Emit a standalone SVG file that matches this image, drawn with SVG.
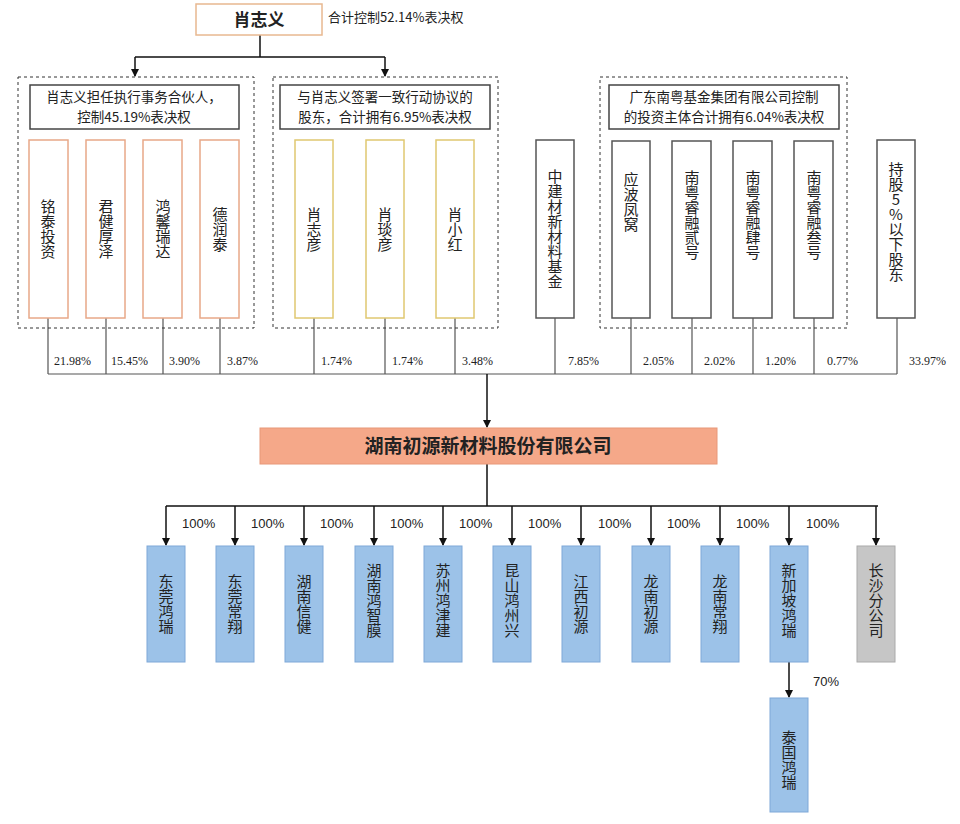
<svg xmlns="http://www.w3.org/2000/svg" width="960" height="824" viewBox="0 0 960 824">
<style>
text{font-family:"Liberation Sans","Noto Sans CJK SC",sans-serif;fill:#222}
.v{writing-mode:vertical-rl;text-orientation:upright;font-size:15px;text-anchor:middle;font-family:"Noto Sans CJK SC",sans-serif}
text.p{font-family:"Liberation Serif","Noto Sans CJK SC",serif;font-size:12px}
.h{font-size:13.5px;text-anchor:middle;font-family:"Noto Sans CJK SC",sans-serif}
.dash{fill:none;stroke:#333;stroke-dasharray:3,3}
.hb{fill:#fff;stroke:#444;stroke-width:1.5}
.ob{fill:#fff;stroke:#e8a888;stroke-width:1.5}
.yb{fill:#fff;stroke:#e0c870;stroke-width:1.5}
.gb{fill:#fff;stroke:#555;stroke-width:1.5}
.bb{fill:#9cc2e8;stroke:#7ea8d8}
.ln{stroke:#555;stroke-width:1.2;fill:none}
.ar{stroke:#111;stroke-width:1.5;fill:none}
</style>
<defs><marker id="a" markerWidth="8" markerHeight="8" refX="7" refY="4" orient="auto" markerUnits="userSpaceOnUse"><path d="M0,0 L8,4 L0,8z" fill="#111"/></marker></defs>
<rect width="960" height="824" fill="#fff"/>
<g id="connectors">
<path class="ar" d="M260,35 V57 M135,57 H385"/>
<path class="ar" d="M135,57 V76" marker-end="url(#a)"/>
<path class="ar" d="M385,57 V76" marker-end="url(#a)"/>
<path class="ln" d="M48,318V374M106,318V374M163,318V374M220,318V374M314,318V374M385,318V374M455,318V374M555,318V374M631,318V374M692,318V374M753,318V374M814,318V374M897,318V374M48,374H897"/>
<path class="ar" d="M487,374V427" marker-end="url(#a)"/>
<path class="ar" d="M487,464V506M166,506H878"/>
<g class="ar">
<path d="M166,506V545" marker-end="url(#a)"/><path d="M235,506V545" marker-end="url(#a)"/><path d="M304,506V545" marker-end="url(#a)"/><path d="M374,506V545" marker-end="url(#a)"/><path d="M443,506V545" marker-end="url(#a)"/><path d="M512,506V545" marker-end="url(#a)"/><path d="M581,506V545" marker-end="url(#a)"/><path d="M651,506V545" marker-end="url(#a)"/><path d="M720,506V545" marker-end="url(#a)"/><path d="M789,506V545" marker-end="url(#a)"/><path d="M876,506V545" marker-end="url(#a)"/><path d="M789,662V697" marker-end="url(#a)"/>
</g>
<g>
<text class="p" x="54" y="365">21.98%</text><text class="p" x="111" y="365">15.45%</text><text class="p" x="169" y="365">3.90%</text><text class="p" x="227" y="365">3.87%</text><text class="p" x="321" y="365">1.74%</text><text class="p" x="392" y="365">1.74%</text><text class="p" x="462" y="365">3.48%</text><text class="p" x="568" y="365">7.85%</text><text class="p" x="643" y="365">2.05%</text><text class="p" x="704" y="365">2.02%</text><text class="p" x="765" y="365">1.20%</text><text class="p" x="827" y="365">0.77%</text><text class="p" x="909" y="365">33.97%</text>
</g>
<g style="font-size:13px">
<text x="182" y="528">100%</text><text x="251" y="528">100%</text><text x="320" y="528">100%</text><text x="390" y="528">100%</text><text x="459" y="528">100%</text><text x="528" y="528">100%</text><text x="598" y="528">100%</text><text x="667" y="528">100%</text><text x="736" y="528">100%</text><text x="806" y="528">100%</text><text x="813" y="686">70%</text>
</g>
</g>
<g id="top"><rect x="196" y="4" width="126" height="31" fill="#fff" stroke="#e8b890" stroke-width="1.5"/><text x="259" y="26" style="font-family:'Noto Sans CJK SC',serif;font-size:17px;font-weight:bold;text-anchor:middle">肖志义</text><text x="328" y="22" style="font-size:13px;font-family:'Noto Sans CJK SC',sans-serif">合计控制52.14%表决权</text></g>
<g id="group1"><rect class="dash" x="18" y="77" width="236" height="251"/><rect class="hb" x="30" y="85" width="209" height="44"/><text class="h" x="134" y="102">肖志义担任执行事务合伙人，</text><text class="h" x="134" y="122">控制45.19%表决权</text></g>
<g id="n1"><rect class="ob" x="29" y="140" width="39" height="178"/><text class="v" x="48" y="229">铭泰投资</text></g>
<g id="n2"><rect class="ob" x="86" y="140" width="39" height="178"/><text class="v" x="106" y="229">君健厚泽</text></g>
<g id="n3"><rect class="ob" x="143" y="140" width="39" height="178"/><text class="v" x="163" y="229">鸿馨瑞达</text></g>
<g id="n4"><rect class="ob" x="200" y="140" width="39" height="178"/><text class="v" x="220" y="229">德润泰</text></g>
<g id="group2"><rect class="dash" x="273" y="77" width="225" height="251"/><rect class="hb" x="280" y="85" width="210" height="44"/><text class="h" x="385" y="102">与肖志义签署一致行动协议的</text><text class="h" x="385" y="122">股东，合计拥有6.95%表决权</text></g>
<g id="n5"><rect class="yb" x="295" y="140" width="38" height="178"/><text class="v" x="314" y="229">肖志彦</text></g>
<g id="n6"><rect class="yb" x="366" y="140" width="38" height="178"/><text class="v" x="385" y="229">肖琰彦</text></g>
<g id="n7"><rect class="yb" x="436" y="140" width="38" height="178"/><text class="v" x="455" y="229">肖小红</text></g>
<g id="n8"><rect class="gb" x="536" y="140" width="38" height="178"/><text class="v" x="555" y="229">中建材新材料基金</text></g>
<g id="group3"><rect class="dash" x="600" y="77" width="247" height="251"/><rect class="hb" x="609" y="85" width="230" height="44"/><text class="h" x="724" y="102">广东南粤基金集团有限公司控制</text><text class="h" x="724" y="122">的投资主体合计拥有6.04%表决权</text></g>
<g id="n9"><rect class="gb" x="612" y="141" width="38" height="177"/><text class="v" x="631" y="202">应波凤窝</text></g>
<g id="n10"><rect class="gb" x="672" y="141" width="39" height="177"/><text class="v" x="692" y="215">南粤睿融贰号</text></g>
<g id="n11"><rect class="gb" x="733" y="141" width="39" height="177"/><text class="v" x="753" y="215">南粤睿融肆号</text></g>
<g id="n12"><rect class="gb" x="794" y="141" width="39" height="177"/><text class="v" x="814" y="215">南粤睿融叁号</text></g>
<g id="n13"><rect class="gb" x="877" y="140" width="38" height="178"/><text class="v" x="896" y="222">持股5%以下股东</text></g>
<g id="main"><rect x="260" y="428" width="457" height="36" fill="#f5a889" stroke="#e89878"/><text x="488" y="453" style="font-family:'Noto Sans CJK SC',serif;font-size:19px;font-weight:bold;text-anchor:middle">湖南初源新材料股份有限公司</text></g>
<g id="s1"><rect class="bb" x="147" y="546" width="38" height="116"/><text class="v" x="166" y="604">东莞鸿瑞</text></g>
<g id="s2"><rect class="bb" x="216" y="546" width="38" height="116"/><text class="v" x="235" y="604">东莞常翔</text></g>
<g id="s3"><rect class="bb" x="285" y="546" width="38" height="116"/><text class="v" x="304" y="604">湖南信健</text></g>
<g id="s4"><rect class="bb" x="355" y="546" width="38" height="116"/><text class="v" x="374" y="600">湖南鸿智膜</text></g>
<g id="s5"><rect class="bb" x="424" y="546" width="38" height="116"/><text class="v" x="443" y="600">苏州鸿津建</text></g>
<g id="s6"><rect class="bb" x="493" y="546" width="38" height="116"/><text class="v" x="512" y="600">昆山鸿州兴</text></g>
<g id="s7"><rect class="bb" x="562" y="546" width="38" height="116"/><text class="v" x="581" y="604">江西初源</text></g>
<g id="s8"><rect class="bb" x="632" y="546" width="38" height="116"/><text class="v" x="651" y="604">龙南初源</text></g>
<g id="s9"><rect class="bb" x="701" y="546" width="38" height="116"/><text class="v" x="720" y="604">龙南常翔</text></g>
<g id="s10"><rect class="bb" x="770" y="546" width="38" height="116"/><text class="v" x="789" y="600">新加坡鸿瑞</text></g>
<g id="s11"><rect x="857" y="546" width="38" height="116" fill="#c6c6c6" stroke="#aaa"/><text class="v" x="876" y="600">长沙分公司</text></g>
<g id="s12"><rect class="bb" x="770" y="698" width="38" height="114"/><text class="v" x="789" y="760">泰国鸿瑞</text></g>
</svg>
